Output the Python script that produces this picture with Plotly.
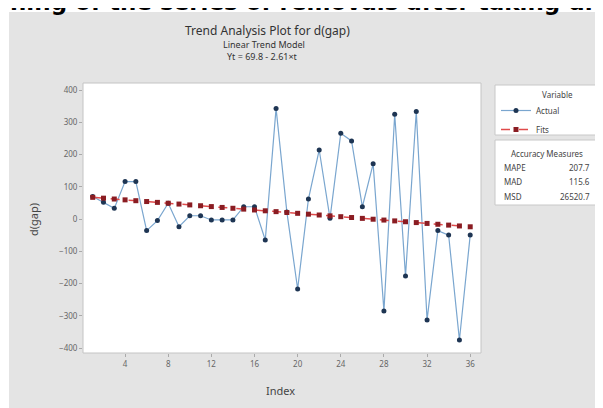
import plotly.graph_objects as go

# ---- data ----
index = list(range(1, 37))
actual = [70, 52, 33, 116, 116, -36, -5, 49, -24, 10, 10, -3, -3, -3, 38, 38,
          -65, 343, 22, -217, 62, 214, 2, 266, 242, 38, 171, -285, 325, -177,
          333, -313, -36, -50, -375, -50]
intercept = 69.8
slope = -2.61
fits = [intercept + slope * t for t in index]

y_ticks = [-400, -300, -200, -100, 0, 100, 200, 300, 400]
x_ticks = [4, 8, 12, 16, 20, 24, 28, 32, 36]
measure_names = ["MAPE", "MAD", "MSD"]
measure_values = ["207.7", "115.6", "26520.7"]

title_text = "Trend Analysis Plot for d(gap)"
subtitle_text = "Linear Trend Model"
equation_text = "Yt = 69.8 - 2.61×t"
top_text = "ning of the series of removals after taking di"

# ---- geometry (screen pixels; page body has an 8px margin) ----
OFF = 8
W, H = 603 - OFF, 408 - OFF
L, R, T, B = 83 - OFF, 122, 83 - OFF, 55
PW, PH = W - L - R, H - T - B


def px(x):
    return (x - OFF - L) / PW


def py(y):
    return (H - B - (y - OFF)) / PH


FONT = "Noto Sans"
fig = go.Figure()

fig.add_trace(go.Scatter(
    x=index, y=actual, name="Actual", mode="lines+markers",
    line=dict(color="#7aa6cf", width=1.2),
    marker=dict(symbol="circle", size=5, color="#1e3553"),
))
fig.add_trace(go.Scatter(
    x=index, y=fits, name="Fits", mode="lines+markers",
    line=dict(color="#e04b4b", width=1.5, dash="dash"),
    marker=dict(symbol="square", size=5, color="#8a1c22"),
))

shapes = [
    # gray graph background
    dict(type="rect", xref="paper", yref="paper", layer="below",
         x0=px(9), x1=px(620), y0=py(430), y1=py(12),
         fillcolor="#e4e4e4", line=dict(width=0)),
    # plot area white
    dict(type="rect", xref="paper", yref="paper", layer="below",
         x0=0, x1=1, y0=0, y1=1, fillcolor="white",
         line=dict(color="#c4c4c4", width=1)),
    # legend box
    dict(type="rect", xref="paper", yref="paper", layer="below",
         x0=px(495), x1=px(599), y0=py(135), y1=py(85),
         fillcolor="white", line=dict(color="#c8c8c8", width=1)),
    # accuracy box
    dict(type="rect", xref="paper", yref="paper", layer="below",
         x0=px(495), x1=px(599), y0=py(205), y1=py(140),
         fillcolor="white", line=dict(color="#c8c8c8", width=1)),
]

annotations = [
    dict(text="<b>" + top_text + "</b>", x=px(301), y=py(17), xanchor="center",
         yanchor="bottom", font=dict(family="DejaVu Sans", size=23, color="#000")),
    dict(text=title_text, x=px(267), y=py(31), xanchor="center", yanchor="middle",
         font=dict(family=FONT, size=12, color="#333")),
    dict(text=subtitle_text, x=px(264), y=py(44), xanchor="center", yanchor="middle",
         font=dict(family=FONT, size=9, color="#333")),
    dict(text=equation_text, x=px(262), y=py(57), xanchor="center", yanchor="middle",
         font=dict(family=FONT, size=9, color="#333")),
    dict(text="d(gap)", x=px(33), y=py(220), textangle=-90, xanchor="center",
         yanchor="middle", font=dict(family=FONT, size=11, color="#444")),
    dict(text="Index", x=px(280), y=py(390), xanchor="center", yanchor="middle",
         font=dict(family=FONT, size=11, color="#444")),
    dict(text="Variable", x=px(557), y=py(94), xanchor="center", yanchor="middle",
         font=dict(family=FONT, size=8, color="#444")),
    dict(text="Accuracy Measures", x=px(547), y=py(153), xanchor="center",
         yanchor="middle", font=dict(family=FONT, size=8, color="#444")),
]
row_y = [167, 181, 196]
for name, val, yy in zip(measure_names, measure_values, row_y):
    annotations.append(dict(text=name, x=px(502), y=py(yy), xanchor="left",
                            yanchor="middle",
                            font=dict(family=FONT, size=8, color="#444")))
    annotations.append(dict(text=val, x=px(592), y=py(yy), xanchor="right",
                            yanchor="middle",
                            font=dict(family=FONT, size=8, color="#444")))
for a in annotations:
    a.update(xref="paper", yref="paper", showarrow=False)

fig.update_layout(
    width=W, height=H,
    margin=dict(l=L, r=R, t=T, b=B),
    paper_bgcolor="white", plot_bgcolor="white",
    shapes=shapes, annotations=annotations,
    showlegend=True,
    legend=dict(x=px(496), y=py(96), xanchor="left", yanchor="top",
                bgcolor="rgba(0,0,0,0)", borderwidth=0,
                font=dict(family=FONT, size=8, color="#444"),
                tracegroupgap=0, itemwidth=30),
    xaxis=dict(range=[0.1, 37.0], tickvals=x_ticks, showgrid=False,
               zeroline=False, ticks="outside", ticklen=3, tickcolor="#aaa",
               tickfont=dict(family=FONT, size=8, color="#666")),
    yaxis=dict(range=[-415.5, 421.7], tickvals=y_ticks, showgrid=False,
               zeroline=False, ticks="outside", ticklen=3, tickcolor="#aaa",
               tickfont=dict(family=FONT, size=8, color="#666")),
)

fig.write_html("out.html")
